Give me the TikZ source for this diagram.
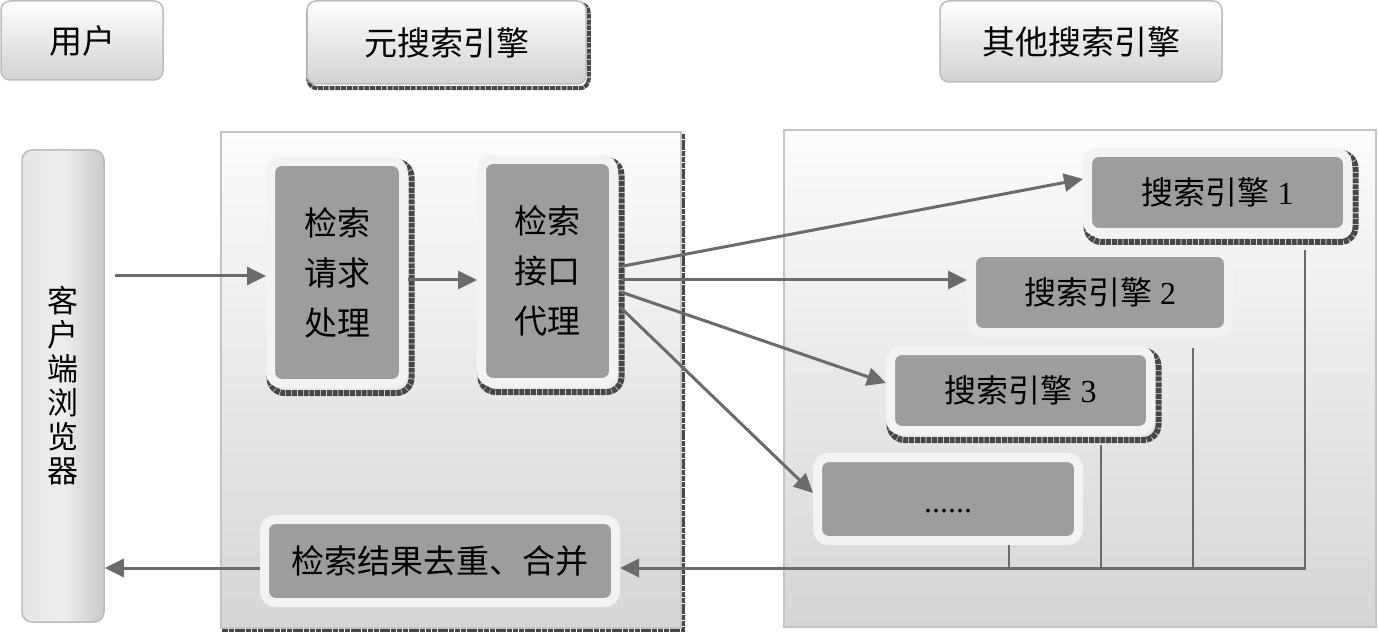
\documentclass[tikz,border=0pt]{standalone}
\usepackage{fontspec}
\setmainfont{Liberation Serif}
\newfontfamily\cjk{Noto Sans CJK SC}
\usetikzlibrary{arrows.meta,calc}
\pgfdeclarelayer{back}
\pgfdeclarelayer{mid}
\pgfsetlayers{back,mid,main}
\definecolor{boxfill}{HTML}{9D9D9D}
\definecolor{glow}{HTML}{F3F3F3}
\definecolor{arrowc}{HTML}{6B6B6B}
\definecolor{shadowc}{HTML}{474747}
\definecolor{panelline}{HTML}{C4C4C4}
\definecolor{paneltop}{HTML}{FCFCFC}
\definecolor{panelbot}{HTML}{D6D6D6}
\definecolor{hdrline}{HTML}{BDBDBD}
\definecolor{hdrbot}{HTML}{D2D2D2}
\definecolor{barleft}{HTML}{E6E6E6}
\definecolor{barmid}{HTML}{EEEEEE}
\definecolor{barright}{HTML}{C9C9C9}
\tikzset{
  hdr/.style={draw=hdrline, line width=1.5pt, rounded corners=9pt, top color=white, bottom color=hdrbot, inner sep=0pt, font=\cjk\fontsize{33}{38}\selectfont},
  panel/.style={draw=panelline, line width=2pt, top color=paneltop, bottom color=panelbot},
  bar/.style={draw=hdrline, line width=1.5pt, rounded corners=10pt, left color=barleft, right color=barright, middle color=barmid, inner sep=0pt, align=center, font=\cjk\fontsize{31}{34}\selectfont},
  proc/.style={draw=glow, line width=9pt, fill=boxfill, rounded corners=11pt, inner sep=0pt, outer sep=4.5pt, align=center, font=\cjk\fontsize{33}{50}\selectfont},
  eng/.style={proc, font=\fontsize{32}{36}\selectfont},
  shadowline/.style={draw=shadowc, line width=6pt, dash pattern=on 5pt off 0.8pt, rounded corners=15pt},
  arr/.style={draw=arrowc, line width=3pt, -{Triangle[length=19pt,width=18pt]}},
  busline/.style={draw=arrowc, line width=2pt},
}
\begin{document}
\begin{tikzpicture}[x=1pt,y=-1pt]
\useasboundingbox (0,0) rectangle (1378,636);
% panels
\begin{pgfonlayer}{back}
\draw[shadowc, line width=4pt, dash pattern=on 5pt off 0.8pt] (224,136) rectangle (683,630);
\path[panel] (221,132) rectangle (681,628);
\path[panel] (784,130) rectangle (1376,627);
\end{pgfonlayer}
% headers
\node[hdr, minimum width=162pt, minimum height=79pt] (huser) at (82,40.5) {用户};
\node[hdr, minimum width=279pt, minimum height=83pt] (hmeta) at (446.5,42.5) {元搜索引擎};
\node[hdr, minimum width=282pt, minimum height=81pt] (hother) at (1081,41.5) {其他搜索引擎};
% browser bar
\node[bar, minimum width=82pt, minimum height=472pt] (browser) at (63,386) {客\\户\\端\\浏\\览\\器};
% process boxes
\node[proc, minimum width=133pt, minimum height=222pt] (req) at (337,272.5) {检索\\请求\\处理};
\node[proc, minimum width=132pt, minimum height=223pt] (proxy) at (547.5,271) {检索\\接口\\代理};
\node[eng, minimum width=260pt, minimum height=80pt] (E1) at (1217.5,192.5) {{\cjk 搜索引擎} 1};
\node[eng, minimum width=257pt, minimum height=80pt] (E2) at (1100,292.5) {{\cjk 搜索引擎} 2};
\node[eng, minimum width=260pt, minimum height=80pt] (E3) at (1020.5,390.5) {{\cjk 搜索引擎} 3};
\node[eng, minimum width=261pt, minimum height=83pt, text height=26pt, text depth=0pt] (E4) at (948,499) {......};
\node[proc, minimum width=351pt, minimum height=83pt] (merge) at (440,561) {检索结果去重、合并};
% shadows
\begin{pgfonlayer}{mid}
\foreach \n in {req,proxy,E1,E3}
  \draw[shadowline] ([shift={(3.5,5)}]\n.north west) rectangle ([shift={(3.5,5)}]\n.south east);
\draw[shadowline, rounded corners=9pt, line width=4pt] ([shift={(2,3.5)}]hmeta.north west) rectangle ([shift={(2,3.5)}]hmeta.south east);
\end{pgfonlayer}
% request flow
\draw[arr, shorten <=10pt] ($(browser.east |- req.west)+(0,3.5)$) -- ($(req.west)+(0,3.5)$);
\draw[arr] ($(req.east)+(0,7.5)$) -- ($(proxy.west)+(0,9)$);
\draw[arr, shorten <=3pt] ($(proxy.east)+(0,-4)$) -- ($(E1.west)+(0,-13.5)$);
\draw[arr, shorten <=3pt] ($(proxy.east)+(0,9)$) -- ($(E2.west)+(0,-12.5)$);
\draw[arr, shorten <=3pt] ($(proxy.east)+(0,20)$) -- ($(E3.west)+(0,-7.5)$);
\draw[arr, shorten <=3pt] ($(proxy.east)+(0,34)$) -- ($(E4.west)+(0,-6)$);
% result bus
\coordinate (b1) at (1305,568);
\coordinate (b2) at (1193,568);
\coordinate (b3) at (1101,568);
\coordinate (b4) at (1009,568);
\draw[busline, shorten <=13pt] (b1 |- E1.south) -- (b1);
\draw[busline, shorten <=11pt] (b2 |- E2.south) -- (b2);
\draw[busline, shorten <=10pt] (b3 |- E3.south) -- (b3);
\draw[busline] (b4 |- E4.south) -- (b4);
\draw[arr] ([xshift=1pt]b1) -- (merge.east |- b1);
\draw[arr] (merge.west |- b1) -- (browser.east |- b1);
\end{tikzpicture}
\end{document}
